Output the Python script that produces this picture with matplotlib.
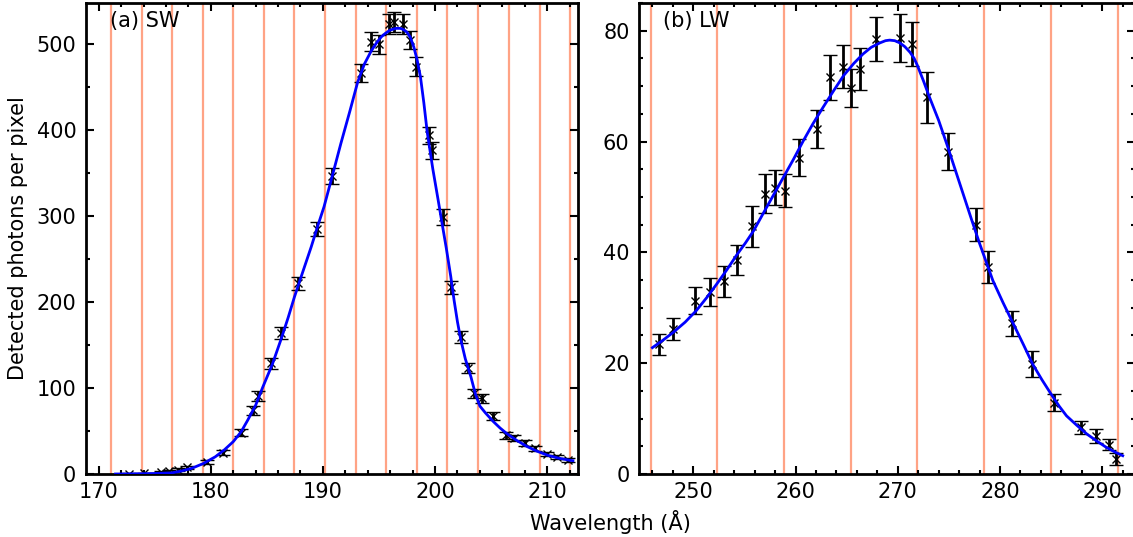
import numpy as np
import matplotlib
matplotlib.use("Agg")
import matplotlib.pyplot as plt
from matplotlib.ticker import MultipleLocator

# ---- SW channel (panel a) ----
sw_wl = [172.7, 174.0, 175.6, 176.3, 177.1, 177.9, 179.7, 181.1, 182.7, 183.8,
         184.2, 185.4, 186.3, 187.8, 189.5, 190.8, 193.4, 194.3, 195.0, 195.9,
         196.3, 197.1, 197.8, 198.3, 199.45, 199.75, 200.7, 201.4, 202.3, 202.95,
         203.5, 204.2, 205.2, 206.3, 207.0, 208.0, 208.9, 210.0, 210.9, 211.9]
sw_counts = [0.5, 1.0, 2.0, 3.0, 5.0, 8.0, 14.3, 25.0, 48.0, 74.0,
             90.7, 128.7, 163.6, 221.7, 285.0, 347.0, 466.7, 503.0, 500.0, 524.0,
             526.0, 524.0, 505.0, 473.6, 394.0, 376.7, 299.0, 217.0, 159.0, 123.0,
             93.8, 88.0, 67.4, 45.3, 41.5, 35.7, 29.9, 23.3, 20.1, 16.3]
sw_err = [0.5, 0.7, 1.0, 1.2, 1.5, 1.8, 2.5, 3.0, 4.0, 5.0,
          5.5, 6.5, 7.0, 8.0, 8.5, 9.5, 10.5, 11.0, 11.0, 11.5,
          11.5, 11.5, 11.0, 11.0, 10.0, 10.0, 9.0, 8.0, 7.0, 6.0,
          5.5, 5.0, 4.5, 4.0, 3.5, 3.3, 3.0, 2.7, 2.5, 2.2]
sw_fit_wl = [171.5, 173.0, 174.5, 175.5, 176.5, 177.4, 178.3, 179.3, 180.4, 181.2,
             182.0, 182.7, 183.3, 184.0, 184.65, 185.5, 186.3, 186.9, 187.46, 188.2,
             188.95, 189.5, 190.1, 190.8, 191.6, 192.4, 193.1, 193.7, 194.3, 194.8,
             195.2, 195.6, 196.0, 196.5, 196.9, 197.2, 197.5, 197.8, 198.1, 198.4,
             198.7, 199.0, 199.3, 199.8, 200.3, 200.7, 201.0, 201.4, 201.7, 202.0,
             202.3, 202.7, 203.2, 203.6, 204.0, 204.5, 205.2, 205.8, 206.4, 207.3,
             208.2, 209.1, 210.0, 211.0, 212.0, 212.3]
sw_fit = [0.0, 0.2, 0.5, 0.8, 1.3, 3.5, 6.6, 12.0, 20.0, 28.0,
          37.6, 49.0, 62.8, 80.0, 101.5, 128.0, 158.0, 182.0, 206.0, 235.0,
          264.0, 287.0, 311.0, 345.0, 384.5, 422.0, 456.0, 477.0, 492.0, 502.0,
          508.5, 513.0, 516.5, 518.5, 518.5, 517.0, 514.0, 508.0, 497.0, 482.0,
          462.0, 432.0, 398.0, 355.0, 317.0, 286.0, 263.0, 230.0, 202.0, 177.0,
          156.0, 134.0, 113.0, 93.0, 79.0, 71.0, 61.0, 53.5, 47.0, 39.0,
          32.0, 26.5, 22.0, 18.5, 16.0, 15.5]
sw_bins = [171.09, 173.85, 176.57, 179.29, 182.01, 184.74, 187.46, 190.21,
           192.94, 195.66, 198.38, 201.11, 203.84, 206.56, 209.32, 212.04]

# ---- LW channel (panel b) ----
lw_wl = [246.6, 248.0, 250.2, 251.6, 253.0, 254.3, 255.7, 257.0, 258.0, 259.0,
         260.3, 262.1, 263.4, 264.6, 265.4, 266.3, 267.9, 270.2, 271.4, 272.9,
         274.9, 277.6, 278.8, 281.2, 283.1, 285.3, 287.9, 289.4, 290.7, 291.3]
lw_counts = [23.4, 26.2, 31.3, 32.8, 34.75, 38.6, 44.7, 50.6, 51.7, 51.1,
             57.1, 62.3, 71.6, 73.5, 69.7, 73.1, 78.5, 78.7, 77.6, 68.0,
             58.2, 45.0, 37.4, 27.2, 19.9, 12.9, 8.4, 6.9, 5.3, 2.7]
lw_err = [1.9, 2.0, 2.4, 2.55, 2.77, 2.7, 3.7, 3.45, 3.2, 2.95,
          3.4, 3.4, 4.1, 3.85, 3.4, 3.76, 4.0, 4.4, 4.0, 4.6,
          3.4, 3.0, 2.9, 2.25, 2.35, 1.6, 1.2, 1.26, 1.0, 1.05]
lw_fit_wl = [246.0, 247.0, 248.0, 249.2, 250.3, 251.3, 252.3, 253.3, 254.2, 255.1,
             255.9, 256.8, 257.8, 258.8, 259.8, 260.75, 261.7, 262.7, 263.7, 264.7,
             265.7, 266.6, 267.4, 268.25, 268.8, 269.2, 269.7, 270.2, 270.7, 271.2,
             271.6, 271.9, 272.5, 273.1, 274.0, 274.8, 275.6, 276.4, 277.2, 278.0,
             278.7, 279.3, 280.3, 281.3, 282.3, 283.2, 284.1, 285.0, 285.8, 286.5,
             287.5, 288.5, 289.5, 290.4, 291.2, 292.0]
lw_fit = [22.8, 24.1, 25.5, 27.4, 29.5, 31.8, 34.3, 36.9, 39.4, 41.7,
          43.9, 46.9, 50.2, 53.5, 56.8, 60.1, 63.2, 66.2, 69.1, 71.9,
          74.1, 75.8, 77.0, 77.8, 78.2, 78.3, 78.2, 77.8, 77.1, 76.1,
          75.0, 73.8, 71.0, 68.0, 63.8, 59.5, 55.0, 50.5, 46.0, 41.6,
          38.0, 34.9, 30.9, 27.1, 23.3, 19.8, 17.0, 14.4, 12.2, 10.5,
          8.8, 7.2, 5.9, 4.8, 4.0, 3.3]
lw_bins = [245.87, 252.35, 258.9, 265.4, 271.9, 278.45, 285.0, 291.5]

W, H = 1133, 537
fig = plt.figure(figsize=(W / 100, H / 100), dpi=100)
ax1 = fig.add_axes([86 / W, (H - 474) / H, (578 - 86) / W, (474 - 3) / H])
ax2 = fig.add_axes([639.3 / W, (H - 474) / H, (1134.5 - 639.3) / W, (474 - 3) / H])

orange = "#ffa385"


def draw(ax, wl, counts, err, fit_wl, fit, bins):
    for b in bins:
        ax.axvline(b, color=orange, lw=1.6, zorder=1)
    ax.errorbar(wl, counts, yerr=err, fmt="x", color="black", ms=6, mew=1.0,
                elinewidth=2.0, capsize=5, capthick=2.0, zorder=3)
    ax.plot(fit_wl, fit, color="#0000ff", lw=2.0, zorder=4)
    for s in ax.spines.values():
        s.set_linewidth(2.0)
    ax.tick_params(which="both", direction="in", top=True, right=True,
                   labelsize=15, width=1.5)
    ax.tick_params(which="major", length=6)
    ax.tick_params(which="minor", length=3)
    ax.tick_params(axis="y", pad=7)
    ax.tick_params(axis="x", pad=6)


draw(ax1, sw_wl, sw_counts, sw_err, sw_fit_wl, sw_fit, sw_bins)
ax1.set_xlim(168.87, 212.75)
ax1.set_ylim(0, 548)
ax1.xaxis.set_major_locator(MultipleLocator(10))
ax1.xaxis.set_minor_locator(MultipleLocator(2))
ax1.yaxis.set_major_locator(MultipleLocator(100))
ax1.yaxis.set_minor_locator(MultipleLocator(50))
ax1.text(0.048, 0.982, "(a) SW", transform=ax1.transAxes, fontsize=15,
         va="top", ha="left")

draw(ax2, lw_wl, lw_counts, lw_err, lw_fit_wl, lw_fit, lw_bins)
ax2.set_xlim(244.72, 293.15)
ax2.set_ylim(0, 85)
ax2.xaxis.set_major_locator(MultipleLocator(10))
ax2.xaxis.set_minor_locator(MultipleLocator(2))
ax2.yaxis.set_major_locator(MultipleLocator(20))
ax2.yaxis.set_minor_locator(MultipleLocator(5))
ax2.text(0.048, 0.982, "(b) LW", transform=ax2.transAxes, fontsize=15,
         va="top", ha="left")

fig.text(18 / W, 1 - 238 / H, "Detected photons per pixel", rotation=90,
         fontsize=15, ha="center", va="center")
fig.text(610 / W, 1 - 522 / H, "Wavelength (Å)", fontsize=15,
         ha="center", va="center")

fig.savefig("out.png", dpi=100)
